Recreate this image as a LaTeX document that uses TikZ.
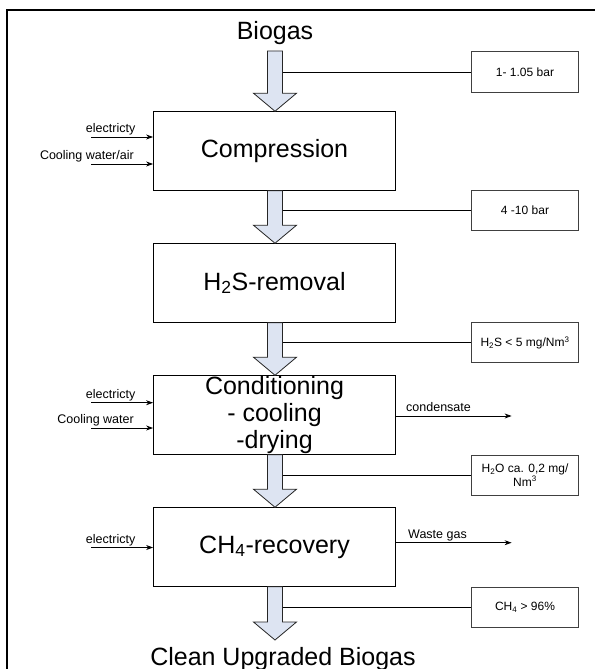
\documentclass[tikz,border=0pt]{standalone}
\usepackage{fontspec}
\setmainfont{Liberation Sans}
\usetikzlibrary{arrows.meta}
\definecolor{arrowfill}{RGB}{221,228,242}
\newcommand\fatarr[2]{% top y, tip y
  \draw[fatarrow] (267.5,#1) -- (267.5,#2-18) -- (253.5,#2-18) -- (275,#2)
    -- (296.5,#2-18) -- (282.5,#2-18) -- (282.5,#1) -- cycle;}
\begin{document}
\begin{tikzpicture}[x=1pt,y=-1pt,
  mainbox/.style={draw=black, line width=0.8pt, minimum width=242pt,
    minimum height=79.5pt, inner sep=0pt, align=center,
    font=\fontsize{25}{27}\selectfont},
  sidebox/.style={draw=black!75, line width=1pt, minimum width=107pt,
    minimum height=40pt, inner sep=0pt, align=center,
    font=\fontsize{12}{14}\selectfont},
  bigtext/.style={inner sep=0pt, font=\fontsize{25}{27}\selectfont},
  smalltext/.style={inner sep=0pt, font=\fontsize{12.5}{14}\selectfont},
  fatarrow/.style={draw=black!85, line width=0.8pt, fill=arrowfill, line join=miter},
  thinarrow/.style={draw=black, line width=0.8pt, -{Stealth[length=7pt,width=5pt]}},
  tieline/.style={draw=black, line width=0.8pt}
]
\useasboundingbox (0,0) rectangle (595,669);
\fill[white] (0,0) rectangle (595,669);
\draw[line width=2pt] (7,669) -- (7,10) -- (595,10);

% titles
\node[bigtext, anchor=base] (biogas) at (275,39.5) {Biogas};
\node[bigtext, anchor=base] (clean) at (283,665) {Clean Upgraded Biogas};

% main boxes
\node[mainbox] (comp) at (274.5,151) {Compression};
\node[mainbox] (hts) at (274.5,283) {H\textsubscript{2}S-removal};
\node[mainbox] (cond) at (274.5,415) {Conditioning\\- cooling\\-drying};
\node[mainbox] (ch4) at (274.5,547) {CH\textsubscript{4}-recovery};

% side boxes
\node[sidebox] (s1) at (525,72) {1- 1.05 bar};
\node[sidebox] (s2) at (525,210.5) {4 -10 bar};
\node[sidebox] (s3) at (525,342.7) {H\textsubscript{2}S < 5 mg/Nm\textsuperscript{3}};
\node[sidebox] (s4) at (525,475) {H\textsubscript{2}O ca. 0,2 mg/\\Nm\textsuperscript{3}};
\node[sidebox] (s5) at (525,607) {CH\textsubscript{4} > 96\%};

% fat arrows
\fatarr{51}{111.25}
\fatarr{190.75}{243.25}
\fatarr{322.75}{375.25}
\fatarr{454.75}{507.25}
\fatarr{586.75}{640}

% tie lines from arrow shafts to side boxes
\coordinate (t1) at (282.5,72);
\coordinate (t2) at (282.5,210.5);
\coordinate (t3) at (282.5,342.7);
\coordinate (t4) at (282.5,475);
\coordinate (t5) at (282.5,607);
\draw[tieline] (t1) -- (s1.west);
\draw[tieline] (t2) -- (s2.west);
\draw[tieline] (t3) -- (s3.west);
\draw[tieline] (t4) -- (s4.west);
\draw[tieline] (t5) -- (s5.west);

% inputs
\coordinate (i1) at (91,137);
\coordinate (i2) at (91,164);
\coordinate (i3) at (91,402.7);
\coordinate (i4) at (91,428);
\coordinate (i5) at (91,547.5);
\draw[thinarrow] (i1) -- (i1 -| comp.west);
\draw[thinarrow] (i2) -- (i2 -| comp.west);
\draw[thinarrow] (i3) -- (i3 -| cond.west);
\draw[thinarrow] (i4) -- (i4 -| cond.west);
\draw[thinarrow] (i5) -- (i5 -| ch4.west);
\node[smalltext, anchor=base east] (l1) at (135.5,132.5) {electricty};
\node[smalltext, anchor=base east] (l2) at (134,159.5) {Cooling water/air};
\node[smalltext, anchor=base east] (l3) at (135.5,398.2) {electricty};
\node[smalltext, anchor=base east] (l4) at (134,423.5) {Cooling water};
\node[smalltext, anchor=base east] (l5) at (135.5,543) {electricty};

% outputs
\coordinate (o1) at (511.6,416);
\coordinate (o2) at (511.6,542.7);
\draw[thinarrow] (o1 -| cond.east) -- (o1);
\draw[thinarrow] (o2 -| ch4.east) -- (o2);
\node[smalltext, anchor=base west] (l6) at (406,411) {condensate};
\node[smalltext, anchor=base west] (l7) at (408,538.2) {Waste gas};
\end{tikzpicture}
\end{document}
